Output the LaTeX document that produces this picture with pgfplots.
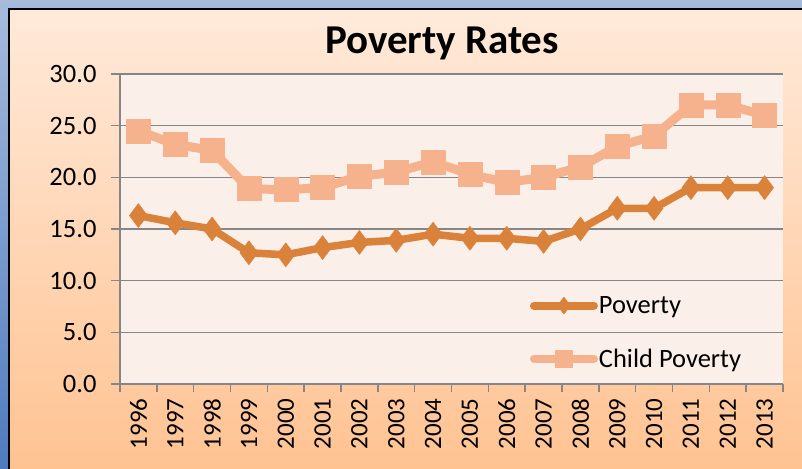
\documentclass[border=0pt]{standalone}
\usepackage{pgfplots}
\pgfplotsset{compat=1.18}
\usepackage{fontspec}
\setmainfont{Carlito}
\definecolor{pov}{RGB}{218,129,58}
\definecolor{child}{RGB}{246,178,140}
\definecolor{plotbg}{RGB}{251,239,233}
\definecolor{gridc}{RGB}{134,134,134}
\definecolor{blueA}{RGB}{167,187,220}
\definecolor{blueB}{RGB}{78,124,191}
\definecolor{peachA}{RGB}{255,234,218}
\definecolor{peachB}{RGB}{255,195,146}
\begin{document}
\begin{tikzpicture}[x=1pt,y=1pt]
\useasboundingbox (0,0) rectangle (802,468);
\shade[top color=blueA, bottom color=blueB] (0,0) rectangle (802,468);
\shade[top color=peachA, bottom color=peachB] (9,0) rectangle (802,459);
\draw[black, line width=2.5pt] (9,-2) -- (9,459) -- (804,459);
\node[font=\bfseries\fontsize{41}{49}\selectfont, anchor=base] at (442,414) {Poverty Rates};
\begin{axis}[
  at={(120pt,84pt)}, anchor=south west,
  scale only axis, width=663pt, height=310pt,
  xmin=-0.5, xmax=17.5, ymin=0, ymax=30,
  axis x line*=bottom, axis y line*=left,
  axis line style={draw=gridc, line width=1.5pt, -},
  axis background/.style={fill=plotbg},
  ymajorgrids, grid style={draw=gridc, line width=1.5pt},
  ytick={0,5,...,30},
  xtick={0,...,17},
  xticklabels={1996,1997,1998,1999,2000,2001,2002,2003,2004,2005,2006,2007,2008,2009,2010,2011,2012,2013},
  minor xtick={-0.5,0.5,...,17.5},
  tick align=outside,
  major tick length=9pt, minor tick length=8pt,
  major x tick style={draw=none},
  major y tick style={draw=gridc, line width=1.5pt},
  minor x tick style={draw=gridc, line width=1.5pt},
  /pgf/number format/assume math mode=true,
  yticklabel={\pgfmathprintnumber[fixed, fixed zerofill, precision=1]{\tick}},
  yticklabel style={font=\fontsize{26.5}{31}\selectfont, xshift=-11pt},
  xticklabel style={font=\fontsize{25}{30}\selectfont, rotate=90, anchor=east, xshift=-2pt},
  clip=false,
  legend style={draw=none, fill=none, at={(rel axis cs:0.618,0.166)}, anchor=west,
    font=\fontsize{26.5}{31}\selectfont, row sep=30pt, inner sep=0pt, nodes={inner xsep=1pt}},
  legend cell align=left,
  legend image code/.code={\draw[mark repeat=2,mark phase=2,#1,line cap=round] plot coordinates {(0pt,0pt)(30pt,0pt)(60pt,0pt)};},
]
\addplot[color=pov, line width=7.5pt, line join=round, mark=diamond*, mark size=12pt,
  mark options={line width=0.5pt, fill=pov, draw=pov},
  legend image post style={mark size=8.5pt, line width=8pt}]
  coordinates {(0,16.3)(1,15.6)(2,15.0)(3,12.7)(4,12.5)(5,13.2)(6,13.7)(7,13.9)(8,14.5)(9,14.1)(10,14.1)(11,13.8)(12,15.0)(13,17.0)(14,17.0)(15,19.0)(16,19.0)(17,19.0)};
\addlegendentry{Poverty}
\addplot[color=child, line width=9pt, line join=round, mark=square*, mark size=12pt,
  mark options={line width=0.5pt, fill=child, draw=child},
  legend image post style={mark size=8.5pt, line width=8pt}]
  coordinates {(0,24.5)(1,23.2)(2,22.6)(3,18.9)(4,18.8)(5,19.0)(6,20.1)(7,20.5)(8,21.5)(9,20.3)(10,19.5)(11,20.0)(12,21.0)(13,23.0)(14,24.0)(15,27.0)(16,27.0)(17,26.0)};
\addlegendentry{Child Poverty}
\end{axis}
\end{tikzpicture}
\end{document}
